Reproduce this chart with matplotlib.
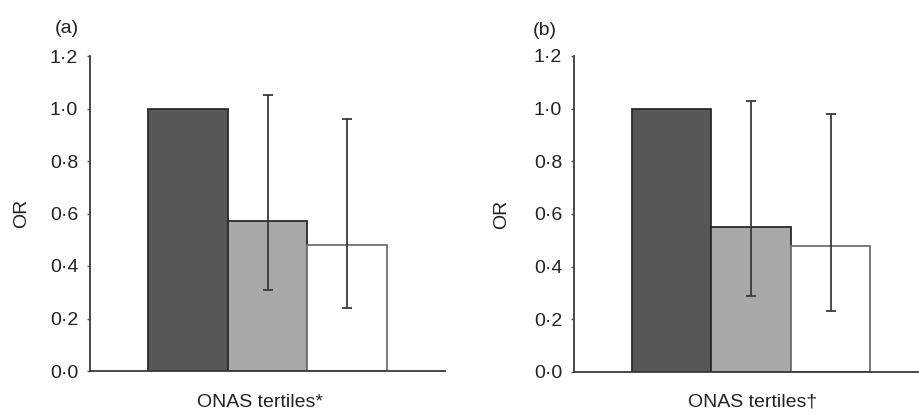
import matplotlib
matplotlib.use("Agg")
import matplotlib.pyplot as plt
import numpy as np

plt.rcParams['font.family'] = ['Liberation Sans', 'DejaVu Sans']

# Data
tertiles = ["T1", "T2", "T3"]
or_a = [1.00, 0.57, 0.48]
ci_low_a = [np.nan, 0.31, 0.24]
ci_high_a = [np.nan, 1.05, 0.96]
or_b = [1.00, 0.55, 0.48]
ci_low_b = [np.nan, 0.29, 0.23]
ci_high_b = [np.nan, 1.03, 0.98]
yticks = [0.0, 0.2, 0.4, 0.6, 0.8, 1.0, 1.2]
ytick_labels = ["0·0", "0·2", "0·4", "0·6", "0·8", "1·0", "1·2"]
panel_labels = ["(a)", "(b)"]
xlabels = ["ONAS tertiles*", "ONAS tertiles\u2020"]

bar_colors = ["#575757", "#a8a8a8", "#ffffff"]
edge_colors = ["#2a2a2a", "#2a2a2a", "#707070"]

W, H = 919, 413
fig = plt.figure(figsize=(W / 100, H / 100), dpi=100)

def px_axes(left, right, top, bottom):
    return [left / W, 1 - bottom / H, (right - left) / W, (bottom - top) / H]

axes_specs = [
    (px_axes(90, 445, 56, 371), (-1.23, 3.23)),
    (px_axes(574, 918, 56, 372), (-1.23, 3.10)),
]
data = [(or_a, ci_low_a, ci_high_a), (or_b, ci_low_b, ci_high_b)]
# label placements (axes fraction)
panel_pos = [(-0.099, 1.086), (-0.119, 1.08)]
ylabel_x = [-0.17, -0.185]
xlabel_pos = [(0.48, -0.10), (0.52, -0.095)]

for i, ((rect, xlim), (vals, lo, hi)) in enumerate(zip(axes_specs, data)):
    ax = fig.add_axes(rect)
    x = np.arange(len(tertiles))
    ax.bar(x, vals, width=1.0, color=bar_colors, edgecolor=edge_colors, linewidth=1.3, zorder=2)
    vals_arr = np.array(vals)
    lo_arr = np.array(lo)
    hi_arr = np.array(hi)
    mask = ~np.isnan(lo_arr)
    ax.errorbar(x[mask], vals_arr[mask],
                yerr=[vals_arr[mask] - lo_arr[mask], hi_arr[mask] - vals_arr[mask]],
                fmt='none', ecolor='#3a3a3a', elinewidth=1.3, capsize=3.5, capthick=1.3, zorder=3)
    ax.set_xlim(*xlim)
    ax.set_ylim(0, 1.2)
    ax.set_yticks(yticks)
    ax.set_yticklabels(ytick_labels, fontsize=14, color='#222222')
    ax.set_xticks([])
    for s in ['top', 'right']:
        ax.spines[s].set_visible(False)
    for s in ['left', 'bottom']:
        ax.spines[s].set_color('#3a3a3a')
        ax.spines[s].set_linewidth(1.3)
    ax.tick_params(axis='y', direction='out', length=2.5, width=1, color='#555555', pad=6)
    ax.set_ylabel("OR", fontsize=14, color='#222222')
    ax.yaxis.set_label_coords(ylabel_x[i], 0.5)
    ax.set_xlabel(xlabels[i], fontsize=14, color='#222222')
    ax.xaxis.set_label_coords(*xlabel_pos[i])
    ax.xaxis.label.set_va('center')
    ax.text(panel_pos[i][0], panel_pos[i][1], panel_labels[i], transform=ax.transAxes,
            fontsize=14, color='#222222', ha='left', va='center')

fig.savefig("out.png", dpi=100)
